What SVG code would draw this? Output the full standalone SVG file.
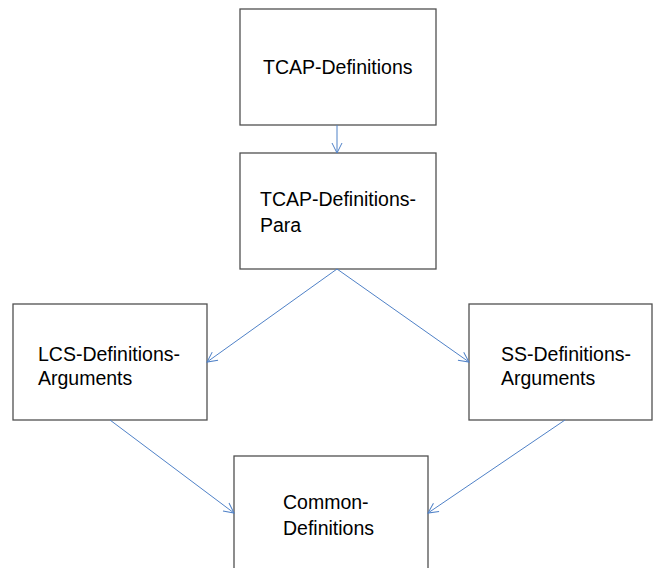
<svg xmlns="http://www.w3.org/2000/svg" width="653" height="568" viewBox="0 0 653 568">
<style>
.box{fill:#fff;stroke:#505050;stroke-width:1.3}
.t{font-family:"Liberation Sans",Arial,sans-serif;font-size:19.5px;fill:#000}
.c{stroke:#4f81c7;stroke-width:1;fill:none}
</style>
<defs>
<marker id="ah" viewBox="0 0 12 12" refX="11" refY="6" markerWidth="12" markerHeight="12" markerUnits="userSpaceOnUse" orient="auto">
<path d="M1,1 L11,6 L1,11" fill="none" stroke="#4f81c7" stroke-width="1"/>
</marker>
</defs>
<g id="n1"><rect class="box" x="240" y="9" width="196" height="116"/><text class="t" x="263" y="74">TCAP-Definitions</text></g>
<g id="n2"><rect class="box" x="240" y="153" width="196" height="116"/><text class="t" x="260" y="206">TCAP-Definitions-</text><text class="t" x="260" y="232">Para</text></g>
<g id="n3"><rect class="box" x="13" y="304" width="194" height="116"/><text class="t" x="38" y="361">LCS-Definitions-</text><text class="t" x="38" y="385">Arguments</text></g>
<g id="n4"><rect class="box" x="469" y="304" width="183" height="116"/><text class="t" x="501" y="361">SS-Definitions-</text><text class="t" x="501" y="385">Arguments</text></g>
<g id="n5"><rect class="box" x="234" y="456" width="194" height="120"/><text class="t" x="283" y="509">Common-</text><text class="t" x="283" y="535">Definitions</text></g>
<g id="connectors">
<line class="c" x1="337" y1="125" x2="337" y2="153" marker-end="url(#ah)"/>
<line class="c" x1="337" y1="269" x2="207" y2="362" marker-end="url(#ah)"/>
<line class="c" x1="337" y1="269" x2="469" y2="362" marker-end="url(#ah)"/>
<line class="c" x1="110" y1="420" x2="234" y2="513" marker-end="url(#ah)"/>
<line class="c" x1="565" y1="420" x2="428" y2="513" marker-end="url(#ah)"/>
</g>
</svg>
